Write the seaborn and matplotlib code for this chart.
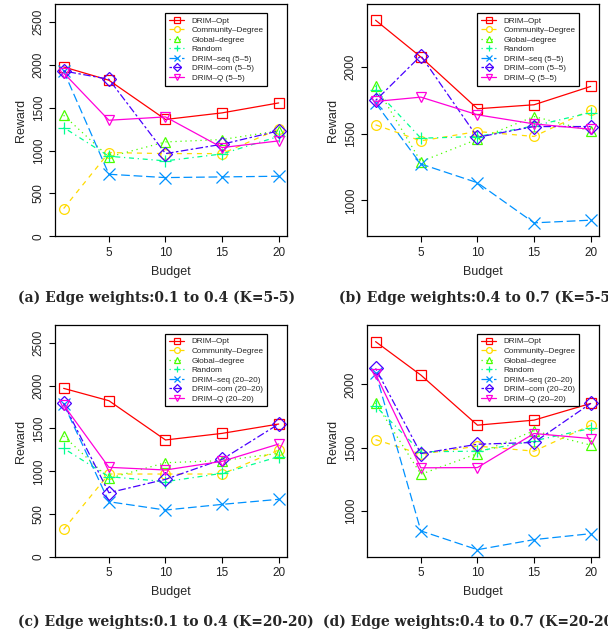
import matplotlib
matplotlib.use("Agg")
import matplotlib.pyplot as plt
import seaborn as sns

budget = [1, 5, 10, 15, 20]

methods = ["DRIM\u2013Opt", "Community\u2013Degree", "Global\u2013degree", "Random",
           "DRIM\u2013seq", "DRIM\u2013com", "DRIM\u2013Q"]
colors = ["#FF0000", "#FFDB00", "#49FF00", "#00FF92", "#0092FF", "#4900FF", "#FF00DB"]
markers = ["s", "o", "^", "+", "x", "D", "v"]
dash_styles = ["-", (0, (4, 4)), (0, (1, 3)), (0, (1, 3, 4, 3)), (0, (7, 3)), (0, (2, 2, 6, 2)), "-"]

# panel (a): edge weights 0.1-0.4, K=5-5
a_vals = [
    [1975, 1820, 1362, 1439, 1555],
    [323, 976, 964, 964, 1250],
    [1411, 925, 1100, 1128, 1230],
    [1268, 933, 879, 960, 1165],
    [1928, 723, 684, 692, 700],
    [1928, 1831, 964, 1073, 1229],
    [1905, 1353, 1392, 1034, 1112],
]
# panel (b): edge weights 0.4-0.7, K=5-5
b_vals = [
    [2347, 2072, 1685, 1715, 1852],
    [1565, 1445, 1515, 1478, 1677],
    [1857, 1290, 1457, 1627, 1520],
    [1827, 1465, 1477, 1557, 1657],
    [1727, 1272, 1132, 832, 852],
    [1747, 2082, 1472, 1552, 1552],
    [1740, 1772, 1640, 1572, 1532],
]
# panel (c): edge weights 0.1-0.4, K=20-20
c_vals = [
    [1967, 1823, 1365, 1442, 1551],
    [323, 968, 968, 968, 1248],
    [1411, 918, 1100, 1124, 1209],
    [1267, 937, 879, 976, 1170],
    [1785, 645, 548, 614, 673],
    [1792, 750, 906, 1139, 1551],
    [1773, 1046, 1015, 1116, 1318],
]
# panel (d): edge weights 0.4-0.7, K=20-20
d_vals = [
    [2339, 2074, 1677, 1717, 1849],
    [1563, 1447, 1511, 1471, 1677],
    [1854, 1288, 1452, 1632, 1519],
    [1828, 1466, 1471, 1553, 1651],
    [2093, 839, 690, 770, 817],
    [2127, 1452, 1526, 1540, 1849],
    [2082, 1339, 1341, 1611, 1571],
]

panels = [
    (a_vals, "(5\u20135)", (0, 2707), [0, 500, 1000, 1500, 2000, 2500],
     [0.0905, 0.628, 0.382, 0.3654], (18, 298), "(a) Edge weights:0.1 to 0.4 (K=5-5)"),
    (b_vals, "(5\u20135)", (732, 2467), [1000, 1500, 2000],
     [0.6036, 0.628, 0.382, 0.3654], (339, 298), "(b) Edge weights:0.4 to 0.7 (K=5-5)"),
    (c_vals, "(20\u201320)", (0, 2706), [0, 500, 1000, 1500, 2000, 2500],
     [0.0905, 0.1228, 0.382, 0.3654], (18, 622), "(c) Edge weights:0.1 to 0.4 (K=20-20)"),
    (d_vals, "(20\u201320)", (632, 2471), [1000, 1500, 2000],
     [0.6036, 0.1228, 0.382, 0.3654], (323, 622), "(d) Edge weights:0.4 to 0.7 (K=20-20)"),
]

sns.set_style("ticks")
plt.rcParams["font.family"] = ["Liberation Sans", "DejaVu Sans"]

W, H = 608, 635
fig = plt.figure(figsize=(W / 100, H / 100), dpi=100)

for vals, ksuffix, ylim, yticks, rect, cap_xy, caption in panels:
    ax = fig.add_axes(rect)
    for i, name in enumerate(methods):
        label = name if i < 4 else f"{name} {ksuffix}"
        sns.lineplot(x=budget, y=vals[i], ax=ax, color=colors[i], marker=markers[i],
                     markersize=7 if markers[i] not in ("+", "x") else 8,
                     markerfacecolor="none", markeredgecolor=colors[i],
                     markeredgewidth=0.9, linewidth=0.9, linestyle=dash_styles[i],
                     label=label)
    ax.set_xlim(0.24, 20.76)
    ax.set_ylim(*ylim)
    ax.set_xticks([5, 10, 15, 20])
    ax.set_yticks(yticks)
    ax.set_yticklabels([str(t) for t in yticks], rotation=90, va="center")
    ax.tick_params(labelsize=8.5, length=4, width=0.8, color="black", labelcolor="#222222")
    for sp in ax.spines.values():
        sp.set_visible(True)
        sp.set_color("black")
        sp.set_linewidth(0.9)
    ax.set_xlabel("Budget", fontsize=9, labelpad=5)
    ax.set_ylabel("Reward", fontsize=9, labelpad=4)
    leg = ax.legend(loc="upper left", bbox_to_anchor=(0.474, 0.961), fontsize=5.9,
                    frameon=True, fancybox=False, framealpha=1, edgecolor="black",
                    handlelength=1.9, borderpad=0.45, labelspacing=0.22, handletextpad=0.9,
                    borderaxespad=0, markerscale=0.6)
    leg.get_frame().set_linewidth(0.9)
    fig.text(cap_xy[0] / W, 1 - cap_xy[1] / H, caption, ha="left", va="center",
             fontsize=10.0, fontweight="bold", family=["DejaVu Serif", "Liberation Serif"])

fig.savefig("out.png", dpi=100)
